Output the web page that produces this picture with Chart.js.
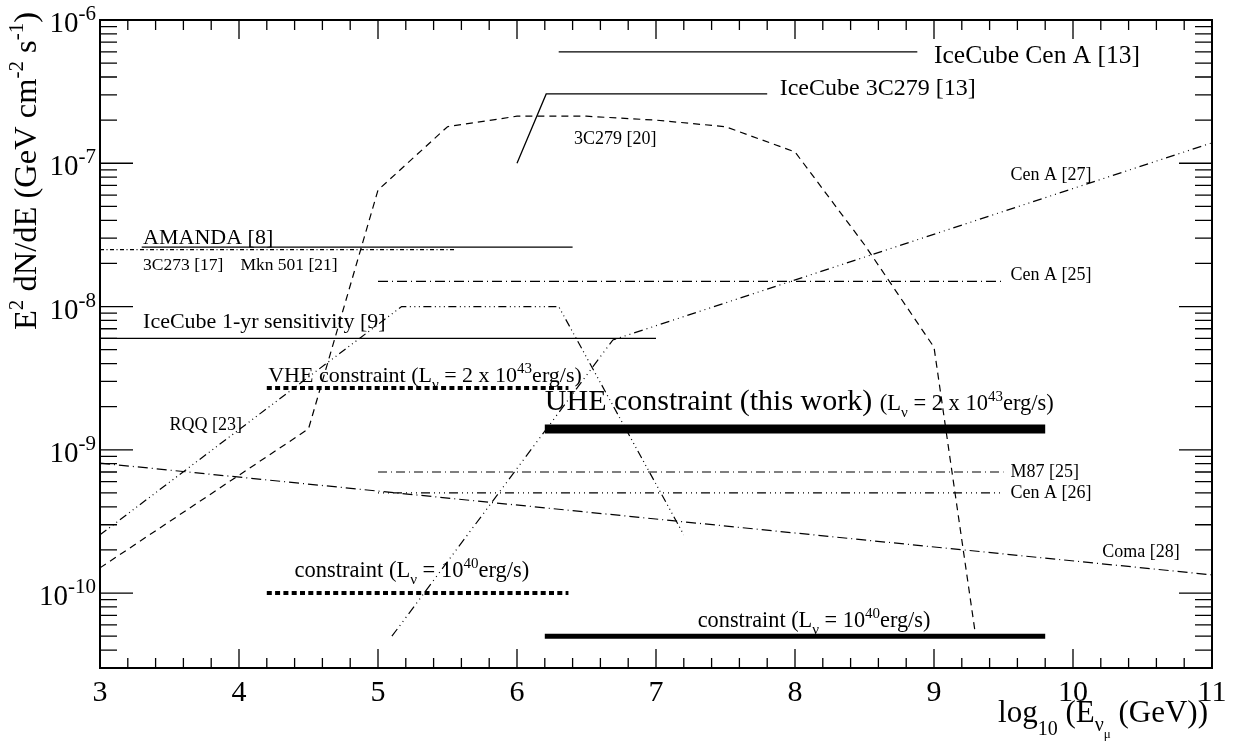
<!DOCTYPE html>
<html>
<head>
<meta charset="utf-8">
<script src="https://cdn.jsdelivr.net/npm/chart.js@4.4.0/dist/chart.umd.min.js"></script>
<style>
  html, body { margin: 0; padding: 0; background: #fff; }
  #wrap { width: 1241px; height: 747px; }
</style>
</head>
<body>
<div id="wrap"><canvas id="chart" width="1241" height="747"></canvas></div>
<script>
// x = log10(E / GeV), y = E^2 dN/dE (GeV cm^-2 s^-1)
const xTicks = [3, 4, 5, 6, 7, 8, 9, 10, 11];
const yDecades = [-10, -9, -8, -7, -6];

const iceCubeCenAX = [6.3, 8.88];
const iceCubeCenAY = [6e-7, 6e-7];
const iceCube3C279X = [6.0, 6.21, 7.8];
const iceCube3C279Y = [1e-7, 3.05e-7, 3.05e-7];
const src3C279X = [3, 4.5, 5, 5.5, 6, 6.5, 7, 7.5, 8, 8.5, 9, 9.3];
const src3C279Y = [1.5e-10, 1.4e-9, 6.5e-8, 1.8e-7, 2.13e-7, 2.13e-7, 2.0e-7, 1.8e-7, 1.2e-7, 2.7e-8, 5.2e-9, 5e-11];
const amandaX = [3.3, 6.4];
const amandaY = [2.6e-8, 2.6e-8];
const mkn501X = [3.0, 5.55];
const mkn501Y = [2.5e-8, 2.5e-8];
const cenA25X = [5.0, 9.5];
const cenA25Y = [1.5e-8, 1.5e-8];
const cenA27X = [5.1, 6.69, 11];
const cenA27Y = [5e-11, 5.85e-9, 1.39e-7];
const rqqX = [3.0, 5.17, 6.3, 7.2];
const rqqY = [2.55e-10, 1e-8, 1e-8, 2.55e-10];
const iceCube1yrX = [3.0, 7.0];
const iceCube1yrY = [6e-9, 6e-9];
const vheX = [4.2, 6.37];
const vheY = [2.7e-9, 2.7e-9];
const uheX = [6.2, 9.8];
const uheY = [1.4e-9, 1.4e-9];
const vheLowX = [4.2, 6.37];
const vheLowY = [1e-10, 1e-10];
const uheLowX = [6.2, 9.8];
const uheLowY = [5e-11, 5e-11];
const m87X = [5.0, 9.5];
const m87Y = [7e-10, 7e-10];
const cenA26X = [5.0, 9.5];
const cenA26Y = [5e-10, 5e-10];
const comaX = [3.0, 11.0];
const comaY = [8.07e-10, 1.34e-10];

const FONT = '"Liberation Serif", "Times New Roman", serif';

// text next to the curves: anchor in data units, parts = [text, size, dy]
const notes = [
  { x: 9.0, y: 5.0e-7, parts: [['IceCube Cen A [13]', 25.5]] },
  { x: 7.89, y: 3.0e-7, parts: [['IceCube 3C279 [13]', 24]] },
  { x: 6.41, y: 1.36e-7, parts: [['3C279 [20]', 18]] },
  { x: 9.55, y: 7.65e-8, parts: [['Cen A [27]', 18]] },
  { x: 3.31, y: 2.74e-8, parts: [['AMANDA [8]', 22]] },
  { x: 3.31, y: 1.8e-8, parts: [['3C273 [17]', 17.5]] },
  { x: 4.01, y: 1.8e-8, parts: [['Mkn 501 [21]', 17.5]] },
  { x: 9.55, y: 1.53e-8, parts: [['Cen A [25]', 18]] },
  { x: 3.31, y: 7.1e-9, parts: [['IceCube 1-yr sensitivity [9]', 22]] },
  { x: 4.21, y: 2.98e-9, parts: [['VHE constraint (L', 22], ['\u03bd', 15, 7], [' = 2 x 10', 22], ['43', 15, -9], ['erg/s)', 22]] },
  { x: 3.5, y: 1.38e-9, parts: [['RQQ [23]', 18]] },
  { x: 6.2, y: 1.9e-9, parts: [['UHE constraint (this work) ', 30], ['(L', 22.5], ['\u03bd', 15, 7], [' = 2 x 10', 22.5], ['43', 15, -9], ['erg/s)', 22.5]] },
  { x: 9.55, y: 6.48e-10, parts: [['M87 [25]', 18]] },
  { x: 9.55, y: 4.62e-10, parts: [['Cen A [26]', 18]] },
  { x: 10.21, y: 1.79e-10, parts: [['Coma [28]', 18]] },
  { x: 4.4, y: 1.3e-10, parts: [['constraint (L', 22.5], ['\u03bd', 15, 7], [' = 10', 22.5], ['40', 15, -9], ['erg/s)', 22.5]] },
  { x: 7.3, y: 5.82e-11, parts: [['constraint (L', 22.3], ['\u03bd', 15, 7], [' = 10', 22.3], ['40', 15, -9], ['erg/s)', 22.3]] }
];

function curve(xs, ys, width, dash) {
  return {
    data: xs.map((v, i) => ({ x: v, y: ys[i] })),
    showLine: true,
    borderColor: '#000',
    borderWidth: width,
    borderDash: dash,
    borderCapStyle: 'butt',
    pointRadius: 0,
    tension: 0,
    fill: false
  };
}

function drawRich(ctx, x, y, parts, align) {
  let total = 0;
  const widths = parts.map(p => {
    ctx.font = p[1] + 'px ' + FONT;
    const w = ctx.measureText(p[0]).width;
    total += w;
    return w;
  });
  let cx = x;
  if (align === 'right') cx = x - total;
  if (align === 'center') cx = x - total / 2;
  parts.forEach((p, i) => {
    ctx.font = p[1] + 'px ' + FONT;
    ctx.fillText(p[0], cx, y + (p[2] || 0));
    cx += widths[i];
  });
}

const frame = {
  id: 'frame',
  afterDraw(chart) {
    const { ctx, chartArea: a, scales: { x, y } } = chart;
    ctx.save();
    ctx.strokeStyle = '#000';
    ctx.fillStyle = '#000';
    ctx.lineWidth = 2;
    ctx.strokeRect(a.left, a.top, a.right - a.left, a.bottom - a.top);

    ctx.lineWidth = 1.3;
    ctx.beginPath();
    for (let v = xTicks[0]; v <= xTicks[xTicks.length - 1] + 1e-6; v += 0.2) {
      const px = x.getPixelForValue(v);
      const major = Math.abs(v - Math.round(v)) < 1e-6;
      const len = major ? 19 : 10;
      ctx.moveTo(px, a.bottom); ctx.lineTo(px, a.bottom - len);
      ctx.moveTo(px, a.top); ctx.lineTo(px, a.top + len);
    }
    for (let e = yDecades[0] - 1; e <= yDecades[yDecades.length - 1]; e++) {
      for (let m = 1; m <= 9; m++) {
        const v = m * Math.pow(10, e);
        if (v < y.min * 0.999 || v > y.max * 1.001) continue;
        const py = y.getPixelForValue(v);
        const len = m === 1 ? 33 : 17;
        ctx.moveTo(a.left, py); ctx.lineTo(a.left + len, py);
        ctx.moveTo(a.right, py); ctx.lineTo(a.right - len, py);
      }
    }
    ctx.stroke();

    // tick labels
    ctx.textBaseline = 'alphabetic';
    ctx.textAlign = 'left';
    xTicks.forEach(t => {
      drawRich(ctx, x.getPixelForValue(t), a.bottom + 33, [[String(t), 30]], 'center');
    });
    yDecades.forEach(d => {
      const py = y.getPixelForValue(Math.pow(10, d));
      drawRich(ctx, a.left - 4, py + 12, [['10', 29], [String(d), 21, -12]], 'right');
    });

    // axis titles
    drawRich(ctx, a.right - 4, a.bottom + 54,
      [['log', 31], ['10', 20, 13], [' (E', 31], ['\u03bd', 20, 9], ['\u03bc', 13, 16], [' (GeV))', 31]], 'right');
    ctx.save();
    ctx.translate(36, 330);
    ctx.rotate(-Math.PI / 2);
    drawRich(ctx, 0, 0, [['E', 32.5], ['2', 21, -13], [' dN/dE (GeV cm', 32.5], ['-2', 21, -13], [' s', 32.5], ['-1', 21, -13], [')', 32.5]], 'left');
    ctx.restore();

    // curve labels
    notes.forEach(n => {
      drawRich(ctx, x.getPixelForValue(n.x), y.getPixelForValue(n.y), n.parts, 'left');
    });
    ctx.restore();
  }
};

new Chart(document.getElementById('chart'), {
  type: 'scatter',
  data: {
    datasets: [
      curve(iceCubeCenAX, iceCubeCenAY, 1.3, []),
      curve(iceCube3C279X, iceCube3C279Y, 1.3, []),
      curve(src3C279X, src3C279Y, 1.2, [7, 5]),
      curve(amandaX, amandaY, 1.3, []),
      curve(mkn501X, mkn501Y, 1.2, [4, 2.5, 1, 2.5]),
      curve(cenA25X, cenA25Y, 1.2, [10, 4, 1, 4]),
      curve(cenA27X, cenA27Y, 1.2, [9, 4, 1, 4, 1, 4, 1, 4]),
      curve(rqqX, rqqY, 1.2, [8, 3.5, 1, 3.5, 1, 3.5, 1, 3.5]),
      curve(iceCube1yrX, iceCube1yrY, 1.3, []),
      curve(vheX, vheY, 4, [5, 3.3]),
      curve(uheX, uheY, 9, []),
      curve(vheLowX, vheLowY, 4, [5, 3.3]),
      curve(uheLowX, uheLowY, 5, []),
      curve(m87X, m87Y, 1.2, [9, 4, 1, 4]),
      curve(cenA26X, cenA26Y, 1.2, [1, 4, 1, 4, 1, 4, 9, 4]),
      curve(comaX, comaY, 1.2, [10, 4, 1, 4])
    ]
  },
  options: {
    responsive: false,
    animation: false,
    devicePixelRatio: 1,
    layout: { padding: { left: 100, top: 20, right: 29, bottom: 79 } },
    plugins: { legend: { display: false }, tooltip: { enabled: false } },
    scales: {
      x: { type: 'linear', min: 3, max: 11, display: false },
      y: { type: 'logarithmic', min: 3e-11, max: 1e-6, display: false }
    }
  },
  plugins: [frame]
});
</script>
</body>
</html>
